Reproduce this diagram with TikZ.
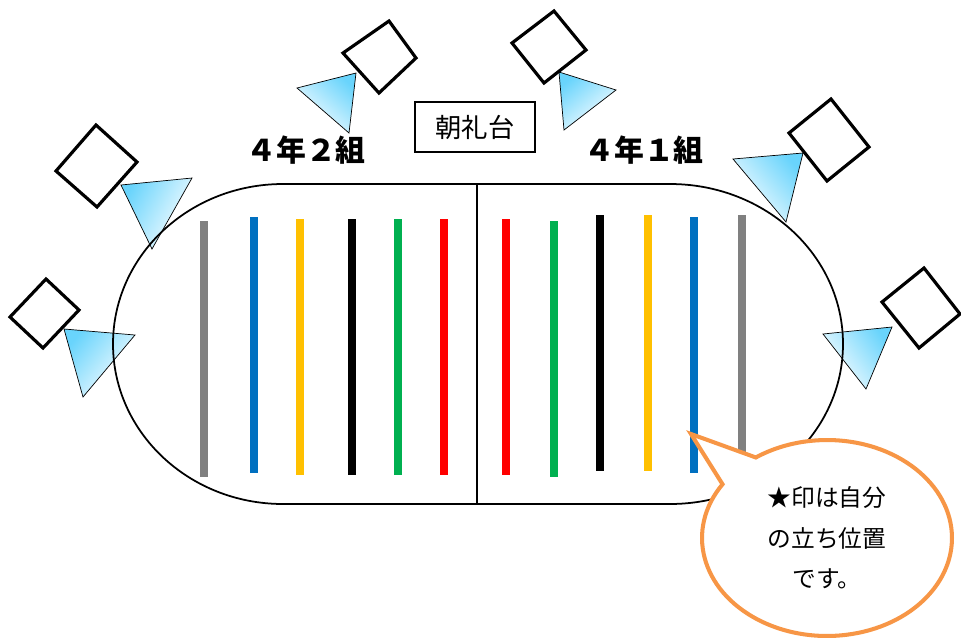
\documentclass[tikz,border=0pt]{standalone}
\usepackage{fontspec}
\setmainfont{Noto Sans CJK JP}
\usepackage{tikz}
\usetikzlibrary{shapes.callouts}

\definecolor{camblue}{RGB}{105,212,252}
\definecolor{memoorange}{RGB}{247,150,70}
\definecolor{lanegray}{RGB}{128,128,128}
\definecolor{laneblue}{RGB}{0,112,192}
\definecolor{laneyellow}{RGB}{255,192,0}
\definecolor{lanegreen}{RGB}{0,176,80}
\definecolor{lanered}{RGB}{255,0,0}

\begin{document}
\begin{tikzpicture}[x=0.02cm, y=-0.02cm,
    lane/.style={line width=4.5pt},
    camera/.style={black, line width=1.8pt, line join=miter},
    lens/.style={draw=black, line width=0.4pt, top color=camblue, bottom color=white},
    track/.style={black, line width=1pt}]
        \useasboundingbox (0,0) rectangle (961,637);

        % camera cones
        \draw[lens, shading angle=-41.4] (356,73) -- (297,88) -- (349,133) -- cycle;
        \draw[lens, shading angle=39.2] (559,72) -- (616,90) -- (564,130) -- cycle;
        \draw[lens, shading angle=60.8] (121,185) -- (192,178) -- (152,249) -- cycle;
        \draw[lens, shading angle=50.6] (64,329) -- (135,335) -- (83,397) -- cycle;
        \draw[lens, shading angle=-49.2] (803,153) -- (733,159) -- (786,222) -- cycle;
        \draw[lens, shading angle=-54] (892,327) -- (823,334) -- (866,389) -- cycle;

        % track
        \draw[track] (283,184) -- (670,184)
            arc[start angle=-90, end angle=90, x radius=173, y radius=160]
            -- (283,504)
            arc[start angle=90, end angle=270, x radius=170, y radius=160] -- cycle;
        \draw[track] (477,184) -- (477,504);

        % lanes, 4-2
        \draw[lane, lanegray] (204,221) -- (204,477);
        \draw[lane, laneblue] (254,217) -- (254,473);
        \draw[lane, laneyellow] (300,219) -- (300,475);
        \draw[lane, black] (352,219) -- (352,475);
        \draw[lane, lanegreen] (398,219) -- (398,475);
        \draw[lane, lanered] (444,219) -- (444,475);

        % lanes, 4-1
        \draw[lane, lanered] (506,219) -- (506,475);
        \draw[lane, lanegreen] (554,221) -- (554,477);
        \draw[lane, black] (600,215) -- (600,471);
        \draw[lane, laneyellow] (648,215) -- (648,471);
        \draw[lane, laneblue] (694,217) -- (694,473);
        \draw[lane, lanegray] (742,215) -- (742,471);

        % camera bodies
        \draw[camera] (389,21) -- (416,58) -- (379,93) -- (343,53) -- cycle;
        \draw[camera] (554,11) -- (586,50) -- (544,83) -- (512,43) -- cycle;
        \draw[camera] (96,125) -- (137,162) -- (97,207) -- (56,171) -- cycle;
        \draw[camera] (46,279) -- (79,310) -- (43,348) -- (10,317) -- cycle;
        \draw[camera] (831,99) -- (869,147) -- (827,181) -- (789,133) -- cycle;
        \draw[camera] (924,268) -- (960,314) -- (919,348) -- (882,302) -- cycle;

        \node[draw, line width=1.1pt, minimum width=2.4cm, minimum height=1cm,
            font=\fontsize{15}{18}\selectfont] (stand) at (475,127) {朝礼台};
        \node[font=\fontsize{17}{20}\selectfont\bfseries] (kumi2) at (306,150) {４年２組};
        \node[font=\fontsize{17}{20}\selectfont\bfseries] (kumi1) at (644,150) {４年１組};

        \node[ellipse callout, draw=memoorange, line width=2.3pt, fill=white,
            minimum width=5cm, minimum height=3.92cm, inner sep=0pt, align=center,
            callout absolute pointer={(691,434)}, callout pointer arc=22,
            font=\fontsize{13.5}{23}\selectfont] (memo) at (827,538)
            {★印は自分\\の立ち位置\\です。};
\end{tikzpicture}
\end{document}
